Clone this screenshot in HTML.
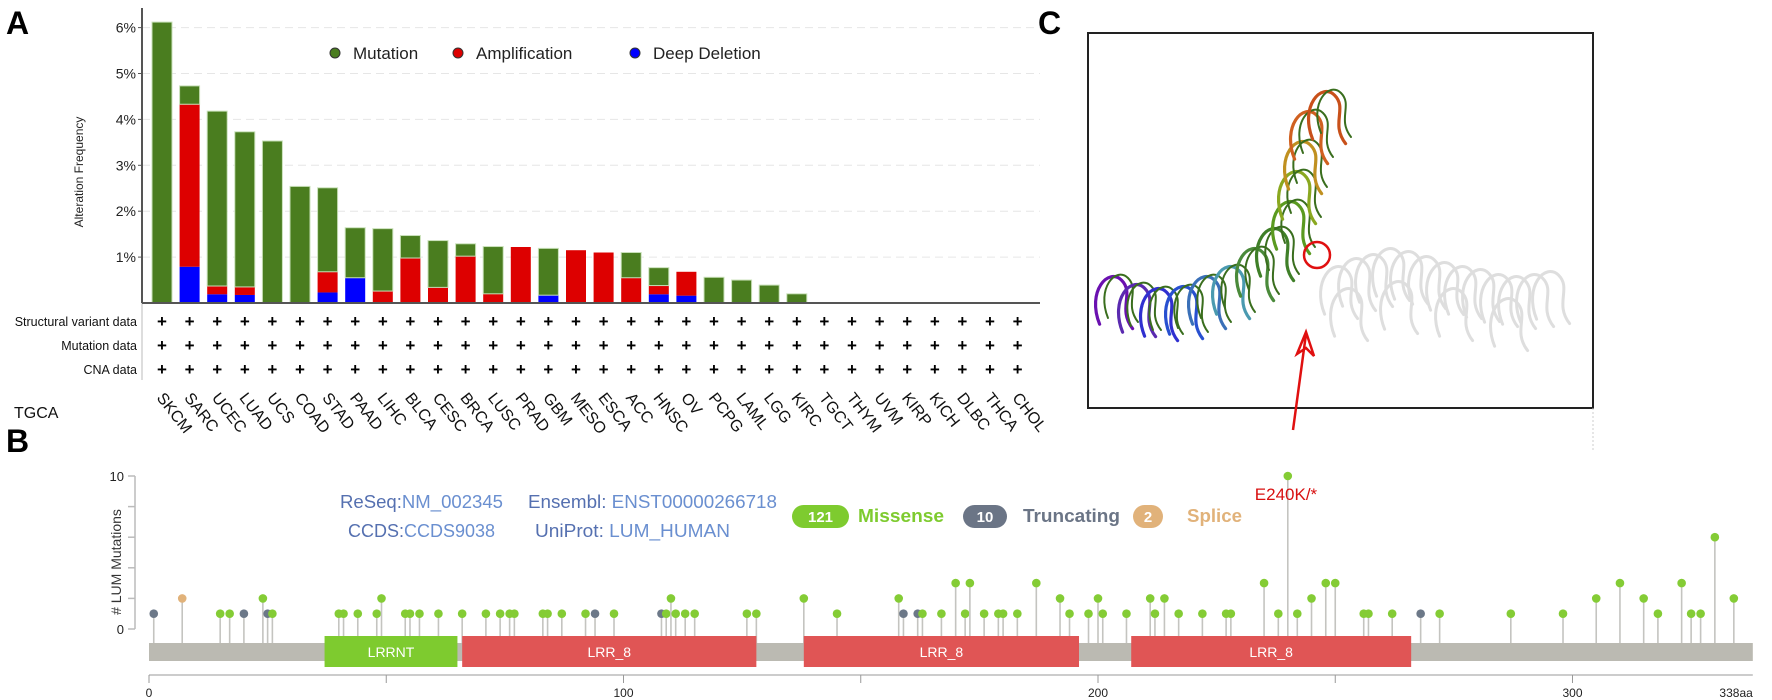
<!DOCTYPE html>
<html><head><meta charset="utf-8"><style>
html,body{margin:0;padding:0;background:#fff;}
svg{display:block;font-family:"Liberation Sans",Arial,sans-serif;}
</style></head><body>
<svg id="fig" width="1772" height="700" viewBox="0 0 1772 700">
  <text x="6" y="34" font-size="32" font-weight="bold">A</text>
  <text x="6" y="452" font-size="32" font-weight="bold">B</text>
  <text x="1038" y="34" font-size="32" font-weight="bold">C</text>
  <g id="panelA"></g>
  <g id="panelB"></g>
  <g id="panelC"></g>
</svg>
<script>
// ---------- Panel A data ----------
const cancerTypes = ["SKCM","SARC","UCEC","LUAD","UCS","COAD","STAD","PAAD","LIHC","BLCA","CESC","BRCA","LUSC","PRAD","GBM","MESO","ESCA","ACC","HNSC","OV","PCPG","LAML","LGG","KIRC","TGCT","THYM","UVM","KIRP","KICH","DLBC","THCA","CHOL"];
const mutationFreq =      [6.12,0.40,3.81,3.38,3.53,2.54,1.83,1.09,1.36,0.49,1.02,0.27,1.03,0,1.02,0,0,0.55,0.39,0,0.56,0.50,0.39,0.20,0,0,0,0,0,0,0,0];
const amplificationFreq = [0,3.54,0.18,0.175,0,0,0.45,0,0.26,0.98,0.34,1.02,0.20,1.22,0,1.15,1.10,0.55,0.19,0.52,0,0,0,0,0,0,0,0,0,0,0,0];
const deletionFreq =      [0,0.79,0.19,0.175,0,0,0.23,0.55,0,0,0,0,0,0,0.17,0,0,0,0.19,0.16,0,0,0,0,0,0,0,0,0,0,0,0];
const yTicksA = [1,2,3,4,5,6];
const dataRows = ["Structural variant data","Mutation data","CNA data"];

// ---------- Panel B data ----------
const mutPos =   [1,7,15,17,20,24,25,26,40,41,44,48,49,54,55,57,61,66,71,74,76,77,83,84,87,92,94,98,108,109,110,111,113,115,126,128,138,145,158,159,162,163,167,170,172,173,176,179,180,183,187,192,194,198,200,201,206,211,212,214,217,222,227,228,235,238,240,242,245,248,250,256,257,262,268,272,287,298,305,310,315,318,323,325,327,330,334];
const mutCount = [1,2,1,1,1,2,1,1,1,1,1,1,2,1,1,1,1,1,1,1,1,1,1,1,1,1,1,1,1,1,2,1,1,1,1,1,2,1,2,1,1,1,1,3,1,3,1,1,1,1,3,2,1,1,2,1,1,2,1,2,1,1,1,1,3,1,10,1,2,3,3,1,1,1,1,1,1,1,2,3,2,1,3,1,1,6,2];
const mutType =  ["T","S","M","M","T","M","T","M","M","M","M","M","M","M","M","M","M","M","M","M","M","M","M","M","M","M","T","M","T","M","M","M","M","M","M","M","M","M","M","T","T","M","M","M","M","M","M","M","M","M","M","M","M","M","M","M","M","M","M","M","M","M","M","M","M","M","M","M","M","M","M","M","M","M","T","M","M","M","M","M","M","M","M","M","M","M","M"];
const domainNames = ["LRRNT","LRR_8","LRR_8","LRR_8"];
const domainStart = [37,66,138,207];
const domainEnd =   [65,128,196,266];
const proteinLength = 338;
const xTicksB = [0,100,200,300];
const yTicksB = [0,10];

const NS="http://www.w3.org/2000/svg";
function mk(tag, attrs, parent, text){
  const e=document.createElementNS(NS,tag);
  for(const k in attrs) e.setAttribute(k,attrs[k]);
  if(text!==undefined) e.textContent=text;
  parent.appendChild(e); return e;
}

// ---------- Panel A ----------
(function(){
  const g=document.getElementById('panelA');
  const x0=142, base=303, pxPer=45.9, pitch=27.6, bw=20, firstC=162;
  const xC=i=>firstC+i*pitch;
  const yA=v=>base-v*pxPer;
  yTicksA.forEach(t=>{
    const l=mk('line',{x1:x0,x2:1040,y1:yA(t),y2:yA(t),stroke:'#e6e6e6','stroke-dasharray':'8,5','stroke-width':1},g);
    
    
    const tk=mk('line',{x1:x0-4,x2:x0,y1:yA(t),y2:yA(t),stroke:'#555'},g);
    
    
    const tx=mk('text',{x:x0-6,y:yA(t)+5,'text-anchor':'end','font-size':14,fill:'#222'},g,t+'%');
    
    
  });
  const yt=mk('text',{x:0,y:0,transform:'translate(83,172) rotate(-90)','text-anchor':'middle','font-size':12,fill:'#222'},g,'Alteration Frequency');
  
  
  cancerTypes.forEach((c,i)=>{
    const d=deletionFreq[i], a=amplificationFreq[i], m=mutationFreq[i];
    const x=xC(i)-bw/2;
    if(d>0){const r=mk('rect',{x:x,y:yA(d),width:bw,height:d*pxPer,fill:'#0000ff'},g);
      
      }
    if(a>0){const r=mk('rect',{x:x,y:yA(d+a),width:bw,height:a*pxPer,fill:'#dd0000'},g);
      
      }
    if(m>0){const r=mk('rect',{x:x,y:yA(d+a+m),width:bw,height:m*pxPer,fill:'#4a7d1f',stroke:'#c8e0b8','stroke-width':1},g);
      
      }
    dataRows.forEach((row,j)=>{
      const t=mk('text',{x:xC(i),y:327+j*24,'text-anchor':'middle','font-size':17,'font-weight':'bold'},g,'+');
      
      
    });
    const lb=mk('text',{x:0,y:0,transform:'translate('+(xC(i)-6)+',398) rotate(52)','font-size':16,fill:'#111'},g,c);
    
    
  });
  const ax=mk('line',{x1:x0,x2:x0,y1:8,y2:base,stroke:'#555','stroke-width':2},g);
  
  
  const ax2=mk('line',{x1:x0,x2:x0,y1:base,y2:380,stroke:'#ddd','stroke-width':2},g);
  
  
  const bl=mk('line',{x1:x0,x2:1040,y1:base,y2:base,stroke:'#555','stroke-width':2},g);
  
  
  dataRows.forEach((row,j)=>{
    const t=mk('text',{x:137,y:326+j*24,'text-anchor':'end','font-size':12.5,fill:'#111'},g,row);
    
    
  });
  const tg=mk('text',{x:14,y:418,'font-size':16,fill:'#111'},g,'TGCA');
  
  
  const leg=[['Mutation','#4a7d1f',335],['Amplification','#dd0000',458],['Deep Deletion','#0000ff',635]];
  leg.forEach(l=>{
    const c=mk('circle',{cx:l[2],cy:53,r:5,fill:l[1],stroke:'#333','stroke-width':1},g);
    
    
    const t=mk('text',{x:l[2]+18,y:59,'font-size':17,fill:'#222'},g,l[0]);
    
    
  });
})();

// ---------- Panel B ----------
(function(){
  const g=document.getElementById('panelB');
  const xS=aa=>149+aa*4.745;
  const y0=629, pu=15.3;
  const yS=v=>y0-v*pu;
  const yax=mk('line',{x1:135,x2:135,y1:476,y2:629,stroke:'#bbb','stroke-width':1.5},g);
  
  
  [0,2,4,6,8,10].forEach(v=>{
    const t=mk('line',{x1:128,x2:135,y1:yS(v),y2:yS(v),stroke:'#bbb','stroke-width':1.5},g);
    
    
  });
  yTicksB.forEach(v=>{
    const t=mk('text',{x:124,y:yS(v)+5,'text-anchor':'end','font-size':13,fill:'#222'},g,v);
    
    
  });
  const yt=mk('text',{x:0,y:0,transform:'translate(121,562) rotate(-90)','text-anchor':'middle','font-size':14,fill:'#333'},g,'# LUM Mutations');
  
  
  const info=[['ReSeq:','NM_002345',340,508,163],['CCDS:','CCDS9038',348,537,147],['Ensembl: ','ENST00000266718',528,508,249],['UniProt: ','LUM_HUMAN',535,537,195]];
  info.forEach(r=>{
    const t=mk('text',{x:r[2],y:r[3],'font-size':18,fill:'#5570b0',textLength:r[4],lengthAdjust:'spacingAndGlyphs'},g);
    
    
    mk('tspan',{},t,r[0]); mk('tspan',{fill:'#6a8fd0'},t,r[1]);
  });
  const badges=[['121','Missense','#7ecb2f','#7ecb2f',792,57,858,86],['10','Truncating','#6b7586','#6b7586',963,44,1023,97],['2','Splice','#e1b27a','#e1b27a',1133,30,1187,55]];
  badges.forEach(b=>{
    const r=mk('rect',{x:b[4],y:505,width:b[5],height:23,rx:11.5,fill:b[2]},g);
    
    
    const t=mk('text',{x:b[4]+b[5]/2,y:522,'text-anchor':'middle','font-size':15,'font-weight':'bold',fill:'#fff'},g,b[0]);
    
    
    const l=mk('text',{x:b[6],y:522,'font-size':18,'font-weight':'bold',fill:b[3],textLength:b[7],lengthAdjust:'spacingAndGlyphs'},g,b[1]);
    
    
  });
  const colors={M:'#84cc35',T:'#6c7888',S:'#e1b27a'};
  mutPos.forEach((p,i)=>{
    const x=xS(p), y=yS(mutCount[i]);
    const s=mk('line',{x1:x,x2:x,y1:643,y2:y,stroke:'#c4c4c0','stroke-width':1.6},g);
    
    
    const c=mk('circle',{cx:x,cy:y,r:4.3,fill:colors[mutType[i]]},g);
    
    
  });
  const bb=mk('rect',{x:xS(0),y:643,width:xS(proteinLength)-xS(0),height:18,fill:'#bbbab2'},g);
  
  
  domainNames.forEach((n,i)=>{
    const x1=xS(domainStart[i]), x2=xS(domainEnd[i]);
    const r=mk('rect',{x:x1,y:636,width:x2-x1,height:31,fill:n==='LRRNT'?'#7ecb2f':'#e05555'},g);
    
    
    const t=mk('text',{x:(x1+x2)/2,y:657,'text-anchor':'middle','font-size':14,fill:'#fff'},g,n);
    
    
  });
  const xa=mk('line',{x1:xS(0),x2:xS(proteinLength),y1:675,y2:675,stroke:'#999'},g);
  
  
  for(let v=0; v<=proteinLength; v+=50){
    const t=mk('line',{x1:xS(v),x2:xS(v),y1:675,y2:683,stroke:'#999'},g);
    
    
  }
  xTicksB.forEach(v=>{
    const t=mk('text',{x:xS(v),y:697,'text-anchor':'middle','font-size':12,fill:'#222'},g,v);
    
    
  });
  const e=mk('text',{x:xS(proteinLength),y:697,'text-anchor':'end','font-size':12,fill:'#222'},g,proteinLength+'aa');
  
  
  const hl=mk('text',{x:1286,y:500,'text-anchor':'middle','font-size':17,fill:'#d81010'},g,'E240K/*');
  
  
})();

// ---------- Panel C (illustrative structure) ----------
(function(){
  const g=document.getElementById('panelC');
  const box=mk('rect',{x:1088,y:33,width:505,height:375,fill:'#fff',stroke:'#222','stroke-width':2},g);
  
  
  const dl=mk('line',{x1:1593,x2:1593,y1:408,y2:452,stroke:'#ccc','stroke-dasharray':'2,2'},g);
  
  
  function loop(cx,cy,s,col,w,name){
    const d='M'+(cx-14*s)+','+(cy+22*s)+' C'+(cx-26*s)+','+(cy-8*s)+' '+(cx-6*s)+','+(cy-30*s)+' '+(cx+6*s)+','+(cy-18*s)+
      ' S'+(cx+2*s)+','+(cy+8*s)+' '+(cx+16*s)+','+(cy+26*s);
    const p=mk('path',{d:d,fill:'none',stroke:col,'stroke-width':w,'stroke-linecap':'round'},g);
    
    
  }
  const grey=[[1340,290],[1358,282],[1375,278],[1392,272],[1410,275],[1428,280],[1446,286],[1464,290],[1482,293],[1500,298],[1518,300],[1536,298],[1552,295],[1350,312],[1400,305],[1455,312],[1510,322]];
  grey.forEach(c=>{ loop(c[0],c[1],1.1,'#dedede',3,'partner-strand'); });
  const chain=[[1115,300,'#6a10b0'],[1138,308,'#5a2ab0'],[1160,312,'#3030d0'],[1185,310,'#2850d0'],[1208,300,'#3a70b8'],[1232,290,'#4a9ab0'],[1256,272,'#4a8a3a'],[1276,252,'#3f7f28'],[1292,225,'#5a9a20'],[1298,195,'#8aa820'],[1304,165,'#c09020'],[1310,135,'#d06020'],[1328,115,'#c8501a']];
  chain.forEach(c=>{ loop(c[0],c[1],1.1,c[2],3.2,'protein-strand'); loop(c[0]+7,c[1]-4,1.0,'#3a6e1e',2,'protein-strand'); });
  const ring=mk('circle',{cx:1317,cy:255,r:13,fill:'none',stroke:'#e01010','stroke-width':2.5},g);
  
  
  const ar=mk('path',{d:'M1293,430 L1306,334 M1297,354 L1306,332 L1314,356 L1306,348 Z',fill:'none',stroke:'#e01010','stroke-width':2.5},g);
  
  
})();
</script>
</body></html>
